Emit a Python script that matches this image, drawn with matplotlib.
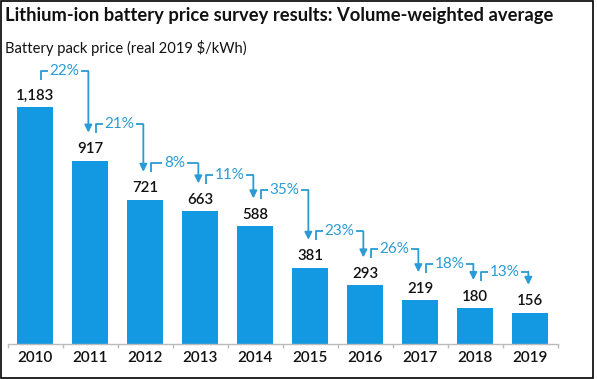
import matplotlib
matplotlib.use("Agg")
import matplotlib.pyplot as plt
from matplotlib.patches import Rectangle

years = ["2010", "2011", "2012", "2013", "2014", "2015", "2016", "2017", "2018", "2019"]
prices = [1183, 917, 721, 663, 588, 381, 293, 219, 180, 156]
value_labels = ["1,183", "917", "721", "663", "588", "381", "293", "219", "180", "156"]
pct_labels = ["22%", "21%", "8%", "11%", "35%", "23%", "26%", "18%", "13%"]

title = "Lithium-ion battery price survey results: Volume-weighted average"
subtitle = "Battery pack price (real 2019 $/kWh)"

BAR = "#1299e1"
CONN = "#2a9bd4"
FONT = "Lato"

W, H = 597, 379
fig = plt.figure(figsize=(W / 100, H / 100), dpi=100)
fig.patch.set_facecolor("white")

ax = fig.add_axes([7.5 / W, (H - 344) / H, 550 / W, 280 / H])
x = list(range(len(years)))
ax.bar(x, prices, width=0.65, color=BAR, zorder=2)
ax.set_xlim(-0.5, len(years) - 0.5)
ax.set_ylim(0, 1400)
for s in ["top", "right", "left"]:
    ax.spines[s].set_visible(False)
ax.spines["bottom"].set_color("#bbbbbb")
ax.spines["bottom"].set_linewidth(1.0)
ax.set_yticks([])
ax.set_xticks([i - 0.5 for i in range(len(years) + 1)], minor=False)
ax.set_xticklabels([])
ax.tick_params(axis="x", length=3, color="#bbbbbb", width=1)
for i, y in enumerate(years):
    ax.text(i, -72, y, ha="center", va="center", fontsize=11,
            fontfamily=FONT, fontweight="semibold", color="#111111")

for i, (v, lab) in enumerate(zip(prices, value_labels)):
    ax.text(i, v + 22, lab, ha="center", va="bottom", fontsize=10.8,
            fontfamily=FONT, fontweight="semibold", color="#111111")

for i, lab in enumerate(pct_labels):
    x0 = i + 0.1
    x1 = i + 1 - 0.03
    yh = prices[i] + 182
    ytip = prices[i + 1] + 140
    ax.plot([x0, x0, x1], [yh - 45, yh, yh], color=CONN, lw=1.3,
            solid_capstyle="butt", clip_on=False, zorder=3)
    ax.annotate("", xy=(x1, ytip), xytext=(x1, yh),
                arrowprops=dict(arrowstyle="-|>", color=CONN, lw=1.3,
                                mutation_scale=11, shrinkA=0, shrinkB=0),
                annotation_clip=False, zorder=3)
    ax.text((x0 + x1) / 2, yh, lab, ha="center", va="center", fontsize=11,
            fontfamily=FONT, color=CONN, zorder=4,
            bbox=dict(facecolor="white", edgecolor="none", pad=1.2))

fig.text(5 / W, 1 - 15 / H, title, ha="left", va="center", fontsize=13.2,
         fontfamily=FONT, fontweight="bold", color="#111111")
fig.text(5 / W, 1 - 48 / H, subtitle, ha="left", va="center", fontsize=10.6,
         fontfamily=FONT, color="#111111")

fig.patches.append(Rectangle((0.5 / W, 1 - 378 / H), 592.5 / W, 377.5 / H,
                             transform=fig.transFigure, fill=False,
                             edgecolor="black", lw=1.2))

fig.savefig("out.png", dpi=100, facecolor="white")
